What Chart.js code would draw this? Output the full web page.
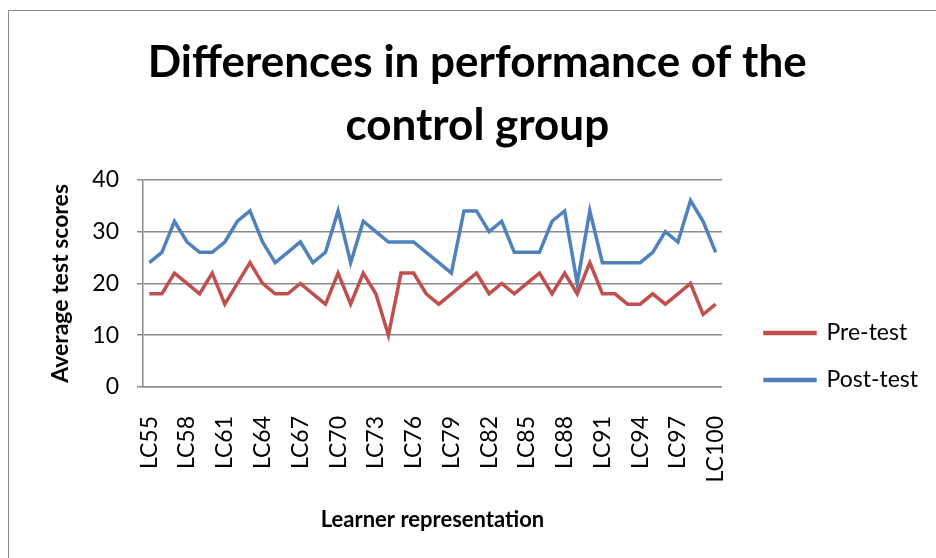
<!DOCTYPE html>
<html>
<head>
<meta charset="utf-8">
<script src="https://cdn.jsdelivr.net/npm/chart.js@4.4.1/dist/chart.umd.min.js"></script>
<style>
  body { margin: 0; background: #fff; }
  #wrap { position: relative; width: 936px; height: 558px; overflow: hidden; }
  #frame { position: absolute; left: 8px; top: 10px; width: 1000px; height: 600px;
           border-left: 1.5px solid #8a8a8a; border-top: 1.5px solid #8a8a8a; }
  canvas { position: absolute; left: 0; top: 0; }
</style>
</head>
<body>
<div id="wrap">
  <div id="frame"></div>
  <canvas id="controlChart" width="936" height="558"></canvas>
</div>
<script>
// data
const learners = ['LC55', 'LC56', 'LC57', 'LC58', 'LC59', 'LC60', 'LC61', 'LC62', 'LC63', 'LC64',
  'LC65', 'LC66', 'LC67', 'LC68', 'LC69', 'LC70', 'LC71', 'LC72', 'LC73', 'LC74',
  'LC75', 'LC76', 'LC77', 'LC78', 'LC79', 'LC80', 'LC81', 'LC82', 'LC83', 'LC84',
  'LC85', 'LC86', 'LC87', 'LC88', 'LC89', 'LC90', 'LC91', 'LC92', 'LC93', 'LC94',
  'LC95', 'LC96', 'LC97', 'LC98', 'LC99', 'LC100'];
const preTest = [18, 18, 22, 20, 18, 22, 16, 20, 24, 20,
  18, 18, 20, 18, 16, 22, 16, 22, 18, 10,
  22, 22, 18, 16, 18, 20, 22, 18, 20, 18,
  20, 22, 18, 22, 18, 24, 18, 18, 16, 16,
  18, 16, 18, 20, 14, 16];
const postTest = [24, 26, 32, 28, 26, 26, 28, 32, 34, 28,
  24, 26, 28, 24, 26, 34, 24, 32, 30, 28,
  28, 28, 26, 24, 22, 34, 34, 30, 32, 26,
  26, 26, 32, 34, 20, 34, 24, 24, 24, 24,
  26, 30, 28, 36, 32, 26];
const yTicks = [0, 10, 20, 30, 40];

const gridGray = '#8a8a8a';
const font = 'Lato';

const ctx = document.getElementById('controlChart').getContext('2d');
new Chart(ctx, {
  type: 'line',
  data: {
    labels: learners,
    datasets: [{
      label: 'Pre-test',
      data: preTest,
      borderColor: '#C0504D',
      backgroundColor: '#C0504D',
      borderWidth: 3.5,
      pointRadius: 0,
      tension: 0
    }, {
      label: 'Post-test',
      data: postTest,
      borderColor: '#4F81BD',
      backgroundColor: '#4F81BD',
      borderWidth: 3.5,
      pointRadius: 0,
      tension: 0
    }]
  },
  options: {
    responsive: false,
    animation: false,
    layout: { padding: { left: 26.5, right: 8, top: 10, bottom: 21 } },
    plugins: {
      title: {
        display: true,
        text: ['Differences in performance of the', 'control group'],
        color: '#000',
        font: { family: font, size: 44, weight: 'bold', lineHeight: 1.43 },
        padding: { top: 21.5, bottom: 22.5 }
      },
      legend: {
        position: 'right',
        title: { display: true, text: ' ', font: { size: 10 }, padding: { top: 0, bottom: 154 } },
        labels: {
          boxWidth: 50,
          boxHeight: 1,
          padding: 24,
          color: '#000',
          font: { family: font, size: 23 }
        }
      },
      tooltip: { enabled: false }
    },
    scales: {
      x: {
        offset: true,
        grid: { display: false, drawTicks: false },
        border: { display: true, color: gridGray, width: 1.5 },
        ticks: {
          autoSkip: false,
          maxRotation: 90,
          minRotation: 90,
          padding: 29,
          color: '#000',
          font: { family: font, size: 23 },
          callback: function (value, index) {
            return index % 3 === 0 ? learners[index] : '';
          }
        },
        title: {
          display: true,
          text: 'Learner representation',
          color: '#000',
          font: { family: font, size: 22, weight: 'bold' },
          padding: { top: 4, bottom: 4 }
        },
        afterFit: function (scale) { scale.height = 150; }
      },
      y: {
        min: 0,
        max: 40,
        afterBuildTicks: function (scale) {
          scale.ticks = yTicks.map(v => ({ value: v }));
        },
        grid: { color: gridGray, lineWidth: 1.5, tickLength: 6 },
        border: { display: true, color: gridGray, width: 1.5 },
        ticks: {
          padding: 18,
          color: '#000',
          font: { family: font, size: 23 }
        },
        title: {
          display: true,
          text: 'Average test scores',
          color: '#000',
          font: { family: font, size: 23, weight: 'bold' },
          padding: { top: 20, bottom: 4 }
        },
        afterFit: function (scale) { scale.width = 116.5; }
      },
      // empty strip between plot and legend (hidden, only keeps its width)
      gap: {
        type: 'linear',
        position: 'right',
        display: false,
        afterFit: function (scale) { scale.width = 19; }
      }
    }
  }
});
</script>
</body>
</html>
